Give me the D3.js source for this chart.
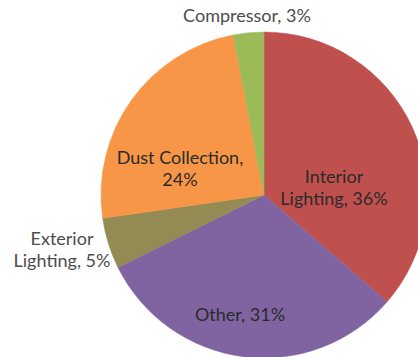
<!DOCTYPE html>
<html>
<head>
<meta charset="utf-8">
<script src="https://cdn.jsdelivr.net/npm/d3@7/dist/d3.min.js"></script>
<style>
  html, body { margin: 0; padding: 0; background: #fff; overflow: hidden; }
  text { font-family: Lato, "Open Sans", sans-serif; }
</style>
</head>
<body>
<svg id="chart" width="418" height="357"></svg>
<script>
// Data (clockwise from 12 o'clock)
const categories = ["Interior Lighting", "Other", "Exterior Lighting", "Dust Collection", "Compressor"];
const values = [36, 31, 5, 24, 3];
const labelLines = [
  ["Interior", "Lighting, 36%"],
  ["Other, 31%"],
  ["Exterior", "Lighting, 5%"],
  ["Dust Collection,", "24%"],
  ["Compressor, 3%"]
];
const colors = ["#C0504D", "#8064A2", "#948A54", "#F79646", "#9BBB59"];

// Layout (not data)
const cx = 264, cy = 195, R = 163;
const fontSize = 18, lineGap = 22;
// label anchor offsets relative to pie center (first-line baseline)
const labelOffsets = [[70, -12], [-24, 126], [-202, 50], [-84, -31], [-17, -173]];
const labelInside = [true, true, false, true, false];

const svg = d3.select("#chart");
const g = svg.append("g").attr("transform", `translate(${cx},${cy})`);

const pie = d3.pie().sort(null).value(d => d)(values);
const arc = d3.arc().innerRadius(0).outerRadius(R);

g.selectAll("path.slice")
  .data(pie)
  .join("path")
  .attr("class", "slice")
  .attr("d", arc)
  .attr("fill", (d, i) => colors[i])
  .attr("stroke", (d, i) => colors[i])
  .attr("stroke-width", 0.5);

const labels = g.selectAll("text.lbl")
  .data(pie)
  .join("text")
  .attr("class", "lbl")
  .attr("text-anchor", "middle")
  .attr("font-size", fontSize)
  .attr("fill", (d, i) => labelInside[i] ? "#2b2b2b" : "#4d4d4d")
  .attr("x", (d, i) => labelOffsets[i][0])
  .attr("y", (d, i) => labelOffsets[i][1]);

labels.each(function(d, i) {
  const t = d3.select(this);
  labelLines[i].forEach((line, k) => {
    t.append("tspan")
      .attr("x", labelOffsets[i][0])
      .attr("dy", k === 0 ? 0 : lineGap)
      .text(line);
  });
});
</script>
</body>
</html>
